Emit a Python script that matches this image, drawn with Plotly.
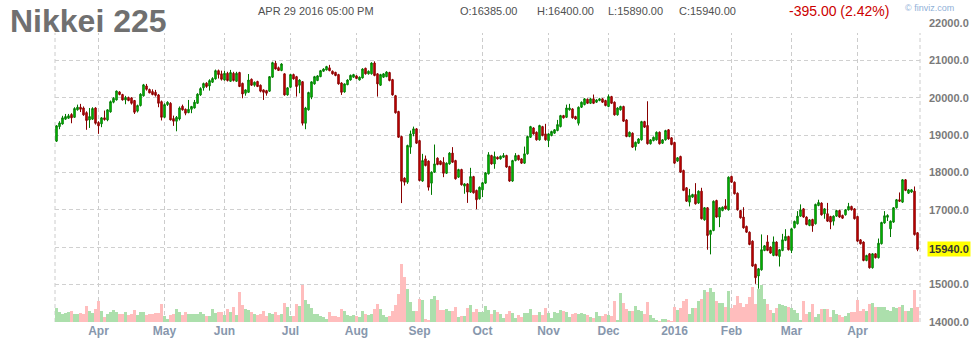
import pandas as pd
import plotly.graph_objects as go

# ---------------- data ----------------
symbol = "Nikkei 225"
stamp = "APR 29 2016 05:00 PM"
first_day, last_day = "2015-03-12", "2016-04-29"
market_holidays = ["2015-05-25", "2015-07-03", "2015-09-07", "2015-11-26", "2015-12-25",
                   "2016-01-01", "2016-01-18", "2016-02-15", "2016-03-25"]

opens = [
    18840, 19230, 19300, 19430, 19455, 19555, 19480, 19680, 19750, 19730,
    19605, 19410, 19430, 19730, 19340, 19305, 19465, 19410, 19625, 19885,
    19945, 20160, 20090, 19945, 20010, 20000, 19930, 19645, 19795, 20055,
    20320, 20225, 20170, 20150, 20080, 19900, 19480, 19820, 19855, 19445,
    19375, 19435, 19775, 19695, 19605, 19695, 19730, 19855, 20080, 20270,
    20395, 20320, 20420, 20510, 20730, 20645, 20480, 20660, 20445, 20660,
    20445, 20680, 20390, 20125, 20150, 20500, 20340, 20440, 20340, 20215,
    20195, 20180, 20555, 20930, 20810, 20735, 20645, 20080, 20285, 20625,
    20570, 20340, 20435, 19320, 19680, 20020, 20375, 20465, 20570, 20715,
    20750, 20805, 20715, 20685, 20625, 20400, 20160, 20355, 20480, 20555,
    20590, 20480, 20535, 20795, 20645, 20645, 20935, 20645, 20340, 20555,
    20570, 20680, 20490, 20060, 19635, 18965, 17850, 17740, 18680, 19035,
    19170, 18855, 17770, 18365, 18305, 17715, 18010, 18385, 18305, 18275,
    17980, 18230, 18520, 18320, 17875, 18080, 17635, 17695, 17475, 17890,
    17520, 17295, 17535, 17715, 17965, 18455, 18230, 18410, 18365, 18410,
    18455, 18160, 17770, 18320, 18455, 18365, 18250, 18500, 18945, 19195,
    19080, 18875, 19230, 19035, 18855, 18990, 19055, 19125, 19230, 19525,
    19480, 19680, 19705, 19500, 19320, 19750, 19820, 19965, 19855, 19975,
    19885, 19930, 19975, 19930, 19770, 20035, 19885, 19545, 19680, 19770,
    19410, 18965, 19055, 18695, 18785, 18875, 19365, 19260, 18770, 18855,
    18875, 19080, 18785, 18875, 19145, 18930, 18805, 18305, 18430, 18055,
    17590, 17205, 17340, 17410, 17180, 17500, 16730, 17055, 16340, 16445,
    17250, 16805, 16980, 17105, 17000, 17895, 17740, 17445, 16980, 16805,
    16555, 16400, 16160, 15535, 15225, 15390, 15910, 16140, 16000, 15775,
    16135, 15750, 15910, 16180, 16285, 15910, 16520, 16625, 16830, 17025,
    16805, 16580, 16740, 16625, 17115, 17180, 16895, 16895, 16820, 16695,
    16830, 16980, 16850, 16865, 17000, 17090, 17025, 16820, 16195, 16135,
    15640, 15820, 15445, 15820, 15715, 16090, 16645, 16800, 16490, 16670,
    17055, 17270, 17205, 17805, 17445, 17475, 17500, 16385,
]
highs = [
    19270, 19375, 19520, 19570, 19570, 19590, 19750, 19820, 19840, 19770,
    19640, 19730, 19750, 19750, 19375, 19485, 19660, 19695, 19930, 20020,
    20195, 20180, 20110, 20055, 20035, 20020, 19945, 19820, 20125, 20375,
    20375, 20250, 20230, 20215, 20105, 19930, 19855, 19910, 19885, 19525,
    19515, 19770, 19820, 19715, 19945, 19785, 19945, 20125, 20285, 20410,
    20420, 20500, 20555, 20760, 20760, 20730, 20730, 20700, 20750, 20700,
    20700, 20700, 20410, 20230, 20640, 20520, 20440, 20460, 20360, 20230,
    20215, 20580, 20970, 20990, 20840, 20930, 20660, 20290, 20640, 20650,
    20590, 20500, 20450, 19760, 20165, 20445, 20590, 20610, 20750, 20795,
    20860, 20885, 20735, 20700, 20645, 20420, 20390, 20500, 20625, 20645,
    20610, 20575, 20795, 20810, 20735, 20955, 20980, 20665, 20645, 20665,
    20715, 20700, 20510, 20080, 19655, 18985, 17870, 18745, 19125, 19230,
    19190, 18875, 18500, 18455, 18325, 18030, 18750, 18405, 18325, 18410,
    18270, 18545, 18680, 18340, 18100, 18100, 17715, 17715, 18125, 17910,
    17540, 17625, 17745, 18010, 18545, 18475, 18560, 18430, 18455, 18520,
    18475, 18180, 18340, 18520, 18475, 18385, 18695, 18985, 19250, 19215,
    19100, 19280, 19250, 19305, 19055, 19120, 19165, 19410, 19545, 19545,
    19820, 19840, 19725, 19520, 19770, 19905, 19995, 19985, 19995, 20090,
    19965, 20000, 19995, 19950, 20090, 20055, 19905, 19750, 19790, 19790,
    19430, 19100, 19075, 18830, 18920, 19385, 19385, 19910, 18895, 18965,
    19100, 19100, 18895, 19145, 19165, 18950, 18825, 18415, 18450, 18075,
    17610, 17560, 17430, 17715, 17520, 17590, 17075, 17075, 16465, 17250,
    17270, 17075, 17090, 17285, 17895, 17915, 17760, 17465, 17000, 17070,
    16575, 16420, 16180, 15555, 15440, 16340, 16055, 16320, 16020, 16285,
    16155, 15950, 16355, 16480, 16305, 16510, 16710, 16965, 17145, 17045,
    16825, 16750, 16760, 17165, 17270, 17200, 17045, 17185, 16840, 16850,
    17000, 17000, 16870, 17020, 17185, 17110, 17045, 16840, 16215, 16155,
    15795, 15840, 15840, 15840, 16230, 16680, 16965, 16880, 16715, 17075,
    17290, 17465, 17825, 17825, 17555, 17555, 17625, 16400,
]
lows = [
    18820, 19160, 19285, 19410, 19440, 19320, 19465, 19660, 19620, 19520,
    19145, 19195, 19410, 19285, 19035, 19215, 19390, 19375, 19605, 19855,
    19930, 20070, 19930, 19830, 19910, 19820, 19570, 19610, 19770, 20035,
    20195, 20125, 20070, 20035, 19750, 19395, 19465, 19785, 19395, 19250,
    19105, 19395, 19660, 19535, 19590, 19590, 19715, 19840, 20055, 20195,
    20270, 20195, 20400, 20490, 20520, 20465, 20465, 20440, 20430, 20440,
    20430, 20290, 19990, 20060, 20140, 20320, 20300, 20290, 20150, 19945,
    20060, 20160, 20540, 20760, 20720, 20715, 20060, 20060, 20270, 20490,
    20035, 20125, 19260, 19160, 19660, 19965, 20355, 20450, 20555, 20700,
    20735, 20715, 20625, 20580, 20355, 20080, 20140, 20340, 20465, 20540,
    20500, 20465, 20520, 20625, 20625, 20625, 20580, 20035, 20320, 20535,
    20555, 20445, 20060, 19580, 18925, 17180, 17650, 17695, 18500, 18970,
    18765, 17765, 17750, 18165, 17515, 17400, 17990, 18195, 18195, 17875,
    17960, 18210, 18255, 17810, 17855, 17650, 17430, 17185, 17455, 17435,
    17015, 17275, 17340, 17695, 17945, 18210, 18100, 18345, 18345, 18390,
    18125, 17750, 17750, 18300, 18320, 18230, 18230, 18480, 18925, 19015,
    18855, 18855, 18970, 18855, 18680, 18970, 19035, 19105, 19210, 19445,
    19460, 19660, 19445, 19415, 19260, 19730, 19800, 19835, 19835, 19835,
    19865, 19910, 19865, 19775, 19750, 19835, 19525, 19525, 19660, 19355,
    18945, 18945, 18660, 18590, 18765, 18855, 19195, 18750, 18750, 18835,
    18855, 18750, 18765, 18855, 18880, 18730, 18230, 18285, 17990, 17500,
    17210, 17090, 17320, 17140, 17160, 16740, 16710, 15930, 15805, 16425,
    16785, 16535, 16960, 17005, 16980, 17720, 17410, 16980, 16765, 16495,
    16380, 16050, 15470, 15015, 14885, 15370, 15890, 15890, 15820, 15755,
    15755, 15480, 15890, 16160, 15910, 15840, 16500, 16605, 16810, 16785,
    16585, 16560, 16410, 16605, 17095, 16845, 16760, 16675, 16480, 16580,
    16810, 16785, 16755, 16845, 16980, 16980, 16740, 16140, 16070, 15620,
    15620, 15425, 15425, 15695, 15695, 16070, 16625, 16700, 16270, 16650,
    17035, 17210, 17185, 17500, 17425, 17455, 16310, 15890,
]
closes = [
    19250, 19330, 19465, 19500, 19520, 19465, 19715, 19750, 19695, 19545,
    19395, 19500, 19715, 19320, 19250, 19465, 19420, 19680, 19900, 19990,
    20185, 20090, 19945, 20010, 19930, 19855, 19615, 19795, 20100, 20350,
    20230, 20135, 20090, 20070, 19855, 19480, 19820, 19885, 19410, 19375,
    19480, 19730, 19680, 19590, 19695, 19770, 19885, 20100, 20250, 20385,
    20305, 20465, 20520, 20730, 20625, 20500, 20660, 20465, 20680, 20465,
    20660, 20305, 20105, 20215, 20480, 20340, 20420, 20305, 20180, 20150,
    20125, 20570, 20945, 20775, 20735, 20910, 20080, 20270, 20625, 20510,
    20305, 20480, 19320, 19730, 20145, 20430, 20570, 20590, 20730, 20775,
    20840, 20730, 20645, 20600, 20375, 20150, 20375, 20480, 20605, 20625,
    20520, 20555, 20775, 20645, 20715, 20935, 20600, 20375, 20625, 20645,
    20695, 20465, 20080, 19600, 18945, 17765, 17740, 18725, 19035, 19170,
    18785, 17785, 18320, 18185, 17605, 18010, 18230, 18215, 18215, 17980,
    18250, 18520, 18275, 17830, 18080, 17670, 17695, 17475, 17890, 17455,
    17270, 17605, 17725, 17990, 18475, 18230, 18430, 18365, 18435, 18455,
    18145, 17770, 18320, 18455, 18340, 18250, 18500, 18965, 19230, 19035,
    18875, 19260, 18990, 18875, 19035, 19100, 19145, 19285, 19525, 19465,
    19730, 19730, 19465, 19435, 19750, 19885, 19975, 19855, 19975, 19855,
    19945, 19975, 19885, 19795, 20035, 19855, 19545, 19730, 19770, 19375,
    18965, 19080, 18680, 18810, 18900, 19365, 19215, 18770, 18875, 18945,
    19080, 18770, 18875, 19125, 18900, 18750, 18250, 18395, 18010, 17520,
    17230, 17385, 17410, 17160, 17500, 16760, 17055, 16310, 16445, 17230,
    16805, 17055, 17070, 17025, 17875, 17740, 17430, 17000, 16785, 16515,
    16400, 16070, 15490, 15180, 15420, 15930, 16035, 15910, 15840, 16140,
    15775, 15930, 16195, 16285, 15930, 16490, 16690, 16830, 17000, 16805,
    16605, 16730, 16570, 17145, 17195, 16865, 17025, 16695, 16670, 16830,
    16980, 16805, 16775, 17000, 17090, 17000, 16760, 16160, 16090, 15640,
    15775, 15445, 15820, 15715, 16105, 16660, 16840, 16850, 16695, 17055,
    17270, 17230, 17805, 17520, 17535, 17535, 16335, 15940,
]
volumes = [
    14, 10, 8, 9, 10, 11, 8, 8, 9, 8,
    16, 11, 9, 13, 21, 11, 5, 8, 10, 12,
    10, 8, 8, 10, 7, 8, 12, 7, 10, 10,
    7, 8, 8, 9, 9, 18, 6, 3, 7, 8,
    13, 10, 7, 10, 8, 8, 8, 8, 10, 8,
    6, 6, 13, 9, 10, 10, 7, 13, 10, 15,
    7, 30, 17, 13, 12, 10, 8, 7, 8, 11,
    6, 9, 8, 10, 7, 8, 19, 15, 6, 6,
    18, 16, 37, 22, 18, 14, 8, 8, 6, 5,
    3, 10, 6, 6, 5, 13, 11, 7, 6, 7,
    6, 5, 11, 8, 7, 8, 13, 18, 13, 7,
    5, 6, 11, 17, 28, 58, 45, 33, 20, 11,
    11, 23, 22, 3, 2, 23, 26, 22, 12, 12,
    13, 11, 11, 15, 5, 6, 6, 14, 17, 10,
    13, 10, 10, 16, 12, 8, 12, 10, 8, 4,
    8, 11, 9, 4, 7, 5, 9, 9, 13, 7,
    7, 10, 7, 14, 9, 4, 10, 9, 12, 11,
    10, 5, 8, 9, 8, 9, 8, 7, 5, 4,
    10, 6, 6, 8, 7, 6, 21, 2, 29, 19,
    13, 11, 11, 16, 12, 11, 8, 20, 7, 4,
    2, 1, 3, 3, 2, 1, 15, 12, 14, 21,
    23, 8, 14, 14, 21, 23, 32, 30, 34, 30,
    21, 19, 19, 15, 31, 14, 17, 26, 19, 15,
    18, 25, 35, 18, 33, 37, 23, 18, 12, 9,
    14, 18, 17, 16, 15, 14, 12, 9, 2, 21,
    8, 10, 18, 5, 8, 13, 13, 13, 5, 12,
    8, 7, 5, 6, 9, 10, 10, 22, 11, 13,
    11, 18, 19, 15, 15, 15, 15, 12, 11, 15,
    14, 15, 17, 11, 11, 14, 32, 15,
]
price_ticks = [14000, 15000, 16000, 17000, 18000, 19000, 20000, 21000, 22000]

# ---------------- derived ----------------
days = pd.bdate_range(first_day, last_day)
days = days[~days.isin(pd.to_datetime(market_holidays))]
n = len(closes)
x = list(range(n))
month_idx = [i for i in range(1, n) if days[i].month != days[i - 1].month]
month_txt = [str(days[i].year) if days[i].month == 1 else days[i].strftime("%b") for i in month_idx]

last = closes[-1]
chg = closes[-1] - closes[-2]
pct = abs(chg) / closes[-2] * 100
tick_txt = ["" if abs(v - last) < 300 else f"{v:.1f}" for v in price_ticks]

up = [c >= o for o, c in zip(opens, closes)]
vol_colors = ["#acdfac" if u else "#ffbdbd" for u in up]

FONT = "Liberation Sans, Arial, sans-serif"
W, H = 980, 342
L, R, T, B = 55, 60, 23, 20
pw, ph = W - L - R, H - T - B


def px_x(p):
    return (p - L) / pw


def px_y(p):
    return (H - B - p) / ph


fig = go.Figure()
fig.add_trace(go.Bar(x=x, y=volumes, marker=dict(color=vol_colors, line=dict(width=0)),
                     width=1.0, yaxis="y", hoverinfo="skip"))
fig.add_trace(go.Candlestick(
    x=x, open=opens, high=highs, low=lows, close=closes, yaxis="y2",
    increasing=dict(line=dict(color="#007800", width=1), fillcolor="#00dd00"),
    decreasing=dict(line=dict(color="#880000", width=1), fillcolor="#dd0000"),
    whiskerwidth=0,
))

shapes = []
for i in month_idx:
    shapes.append(dict(type="line", xref="x", yref="paper", x0=i, x1=i, y0=0, y1=px_y(33),
                       line=dict(color="#cccccc", width=1, dash="4px,3px"), layer="below"))
for xp in (0, 1):
    shapes.append(dict(type="line", xref="paper", yref="paper", x0=xp, x1=xp, y0=0, y1=px_y(33),
                       line=dict(color="#cccccc", width=1, dash="4px,3px"), layer="below"))

ann = [
    dict(text=symbol, x=px_x(8), y=px_y(21), xanchor="left", yanchor="middle",
         font=dict(family=FONT, size=32, color="#707070", weight="bold")),
    dict(text=stamp, x=px_x(256), y=px_y(11), xanchor="left", yanchor="middle",
         font=dict(family=FONT, size=11, color="#505050")),
    dict(text=f"O:{opens[-1]:.2f}", x=px_x(458), y=px_y(11), xanchor="left", yanchor="middle",
         font=dict(family=FONT, size=11, color="#505050")),
    dict(text=f"H:{highs[-1]:.2f}", x=px_x(535), y=px_y(11), xanchor="left", yanchor="middle",
         font=dict(family=FONT, size=11, color="#505050")),
    dict(text=f"L:{lows[-1]:.2f}", x=px_x(606), y=px_y(11), xanchor="left", yanchor="middle",
         font=dict(family=FONT, size=11, color="#505050")),
    dict(text=f"C:{closes[-1]:.2f}", x=px_x(677), y=px_y(11), xanchor="left", yanchor="middle",
         font=dict(family=FONT, size=11, color="#505050")),
    dict(text=f"{chg:.2f} ({pct:.2f}%)", x=px_x(787), y=px_y(11), xanchor="left", yanchor="middle",
         font=dict(family=FONT, size=14, color="#cc0000")),
    dict(text="© finviz.com", x=px_x(903), y=px_y(8), xanchor="left", yanchor="middle",
         font=dict(family=FONT, size=9, color="#8fb0d8")),
    dict(text=f"{last:.1f}", x=1, xshift=7, y=last, yref="y2", xanchor="left", yanchor="middle",
         bgcolor="#ffff00", borderpad=1,
         font=dict(family=FONT, size=11, color="#333333", weight="bold")),
]
for a in ann:
    a.setdefault("xref", "paper")
    a.setdefault("yref", "paper")
    a["showarrow"] = False

fig.update_layout(
    width=W, height=H, margin=dict(l=L, r=R, t=T, b=B, autoexpand=False),
    paper_bgcolor="white", plot_bgcolor="white", showlegend=False,
    bargap=0, boxgap=0.3,
    font=dict(family=FONT),
    xaxis=dict(range=[-0.5, n - 1 + 0.83], tickvals=month_idx, ticktext=month_txt,
               showgrid=False, zeroline=False, showline=False, ticks="", automargin=False,
               tickfont=dict(family=FONT, size=12, color="#8797ad", weight="bold"),
               rangeslider=dict(visible=False)),
    yaxis=dict(range=[0, max(volumes) * 5.15], visible=False, showgrid=False, zeroline=False,
               automargin=False),
    yaxis2=dict(overlaying="y", side="right", range=[13992, 22008], automargin=False,
                tickvals=price_ticks, ticktext=tick_txt, showgrid=True, gridcolor="#d0d0d0",
                griddash="4px,3px", gridwidth=1, zeroline=False, showline=False, ticks="",
                ticklabelstandoff=8,
                tickfont=dict(family=FONT, size=11, color="#7a7a7a", weight="bold")),
    shapes=shapes, annotations=ann,
)

fig.write_html("out.html")
